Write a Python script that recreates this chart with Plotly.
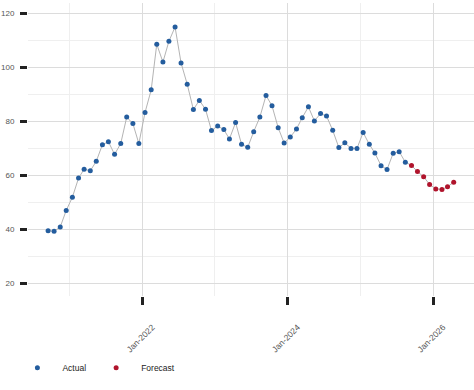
import pandas as pd
import plotly.graph_objects as go

actual_dates = pd.date_range("2020-09-01", periods=60, freq="MS") + pd.Timedelta(days=14)
actual_values = [
    39.4, 39.2, 40.8, 46.9,                     # Sep-Dec 2020
    51.8, 58.9, 62.2, 61.6, 65.1, 71.3, 72.4, 67.7, 71.7, 81.5, 79.1, 71.7,   # 2021
    83.2, 91.6, 108.5, 101.9, 109.6, 114.9, 101.6, 93.7, 84.3, 87.7, 84.4, 76.5,  # 2022
    78.2, 76.9, 73.4, 79.5, 71.4, 70.3, 76.1, 81.5, 89.5, 85.7, 77.6, 71.9,   # 2023
    74.1, 77.1, 81.3, 85.3, 80.1, 82.8, 81.9, 76.6, 70.2, 72.0, 69.9, 69.9,   # 2024
    75.8, 71.4, 68.2, 63.5, 62.1, 68.1, 68.7, 64.8,                           # Jan-Aug 2025
]
forecast_dates = pd.date_range("2025-09-01", periods=8, freq="MS") + pd.Timedelta(days=14)
forecast_values = [63.6, 61.3, 59.4, 56.5, 54.9, 54.7, 55.7, 57.4]

x_tickvals = ["2022-01-01", "2024-01-01", "2026-01-01"]
x_ticktext = ["Jan-2022", "Jan-2024", "Jan-2026"]
y_tickvals = [20, 40, 60, 80, 100, 120]

all_dates = list(actual_dates) + list(forecast_dates)
all_values = actual_values + forecast_values

fig = go.Figure()
fig.add_trace(go.Scatter(
    x=all_dates, y=all_values, mode="lines",
    line=dict(color="#b4b4b4", width=1), showlegend=False, hoverinfo="skip"))
fig.add_trace(go.Scatter(
    x=actual_dates, y=actual_values, mode="markers", name="Actual",
    marker=dict(color="#245d9e", size=5)))
fig.add_trace(go.Scatter(
    x=forecast_dates, y=forecast_values, mode="markers", name="Forecast",
    marker=dict(color="#b0142c", size=5)))

fig.update_layout(
    width=474, height=390,
    margin=dict(l=28, r=0, t=3, b=94, autoexpand=False),
    paper_bgcolor="white", plot_bgcolor="white",
    font=dict(family="Liberation Sans, Arial, sans-serif", size=8.5, color="#555"),
    showlegend=True,
    legend=dict(orientation="h", x=-0.035, xanchor="left", y=-0.195, yanchor="top",
                font=dict(size=8.5, color="#222"), itemwidth=40,
                bgcolor="rgba(0,0,0,0)"),
    xaxis=dict(
        type="date", range=["2020-06-06", "2026-07-26"], automargin=False,
        tickvals=x_tickvals, ticktext=x_ticktext, tickangle=-45,
        ticks="outside", ticklen=8, tickwidth=3, tickcolor="#222",
        ticklabelstandoff=14, ticklabelshift=10,
        showgrid=True, gridcolor="#dcdcdc", gridwidth=1,
        minor=dict(dtick="M12", tick0="2021-01-01", showgrid=True,
                   gridcolor="#efefef", gridwidth=1),
        zeroline=False, showline=False,
        tickfont=dict(size=8.5, color="#555"),
    ),
    yaxis=dict(
        range=[15.2, 123.8], tickvals=y_tickvals, automargin=False,
        ticks="outside", ticklen=7, tickwidth=3, tickcolor="#222",
        ticklabelstandoff=4,
        showgrid=True, gridcolor="#dcdcdc", gridwidth=1,
        minor=dict(dtick=10, tick0=0, showgrid=True, gridcolor="#efefef", gridwidth=1),
        zeroline=False, showline=False,
        tickfont=dict(size=8, color="#555"),
    ),
)

fig.write_html("out.html", config={"displayModeBar": False},
               post_script="document.body.style.margin='0';")
